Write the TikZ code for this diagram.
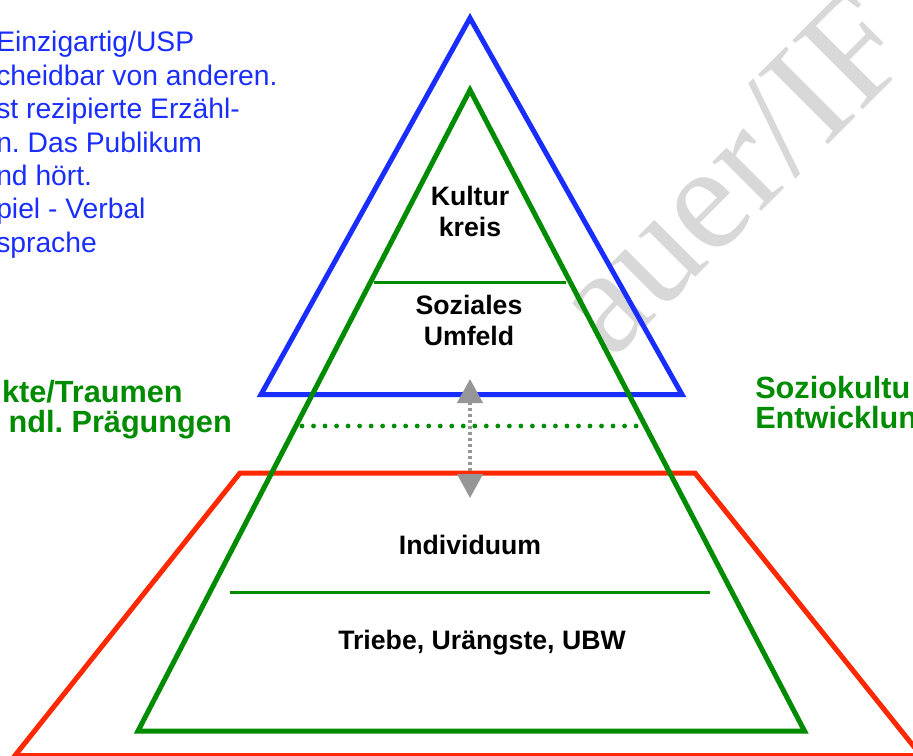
\documentclass[tikz,border=0pt]{standalone}
\usepackage{fontspec}
\setmainfont{Liberation Sans}
\newfontfamily\stampfont{Liberation Serif}
\usetikzlibrary{arrows.meta}
\frenchspacing

\definecolor{pyrblue}{RGB}{25,45,255}
\definecolor{pyrgreen}{RGB}{0,140,0}
\definecolor{pyrred}{RGB}{255,40,0}
\definecolor{arrgray}{RGB}{150,150,150}
\definecolor{stampgray}{RGB}{216,216,216}

\begin{document}
\begin{tikzpicture}[x=0.75pt,y=-0.75pt,
  tri/.style={line width=3.75pt,line join=miter},
  layerline/.style={line width=2.25pt,pyrgreen},
  dots/.style={line width=3.6pt,pyrgreen,line cap=round,dash pattern=on 0pt off 8.64pt},
  lbl/.style={font=\bfseries\fontsize{20}{23}\selectfont,align=center,inner sep=0pt},
  side/.style={font=\bfseries\fontsize{23}{22.5}\selectfont,text=pyrgreen,align=left,inner sep=0pt},
  note/.style={font=\fontsize{21.2}{25}\selectfont,text=pyrblue,align=left,inner sep=0pt},
  link/.style={{Triangle[length=18pt,width=19pt]}-{Triangle[length=18pt,width=19pt]},
               arrgray,line width=2.4pt,dash pattern=on 2.25pt off 2.25pt},
  wmark/.style={font=\stampfont\fontsize{113}{113}\selectfont,text=stampgray,inner sep=0pt}
]
\useasboundingbox (0,0) rectangle (913,756);
\clip (0,0) rectangle (913,756);
% watermark underneath everything
\node[wmark,rotate=45,anchor=base west] (stamp) at (611,362) {auer/IF};
% the three frames: red base, blue top, green pyramid on top
\draw[tri,pyrred] (15,755.5) -- (240,473) -- (695,473) -- (921,755.5) -- cycle;
\draw[tri,pyrblue] (470,18) -- (682,394.5) -- (261,394.5) -- cycle;
% double arrow between the blue and the red frame
\coordinate (up) at (470,379);
\coordinate (down) at (470,498);
\draw[link] (up) -- (down);
\draw[tri,pyrgreen] (470,90) -- (804.5,731) -- (138,731) -- cycle;
% layers inside the green pyramid
\draw[layerline] (374,282) -- (566,282);
\draw[layerline] (230,592) -- (710,592);
\coordinate (dl) at (302,426);
\coordinate (dr) at (637,426);
\draw[dots] (dl) -- (dr);
% layer labels (anchor sits on the last line)
\node[lbl,anchor=base] (kultur) at (470,236) {Kultur\\kreis};
\node[lbl,anchor=base] (sozial) at (469,345) {Soziales\\Umfeld};
\node[lbl,anchor=base] (indiv) at (470,554) {Individuum};
\node[lbl,anchor=base] (triebe) at (482,649) {Triebe, Urängste, UBW};
% side captions
\node[side,anchor=base east] (konflikt) at (183,402) {kte/Traumen};
\node[side,anchor=base east] (praegung) at (232,432) {ndl. Prägungen};
\node[side,anchor=base west] (sozio) at (755,428) {Soziokultu\\Entwicklun};
% blue note, top left
\node[note,anchor=base west] (usp) at (-4,252)
  {Einzigartig/USP\\cheidbar von anderen.\\st rezipierte Erzähl-\\n. Das Publikum\\nd hört.\\piel - Verbal\\sprache};
\end{tikzpicture}
\end{document}
